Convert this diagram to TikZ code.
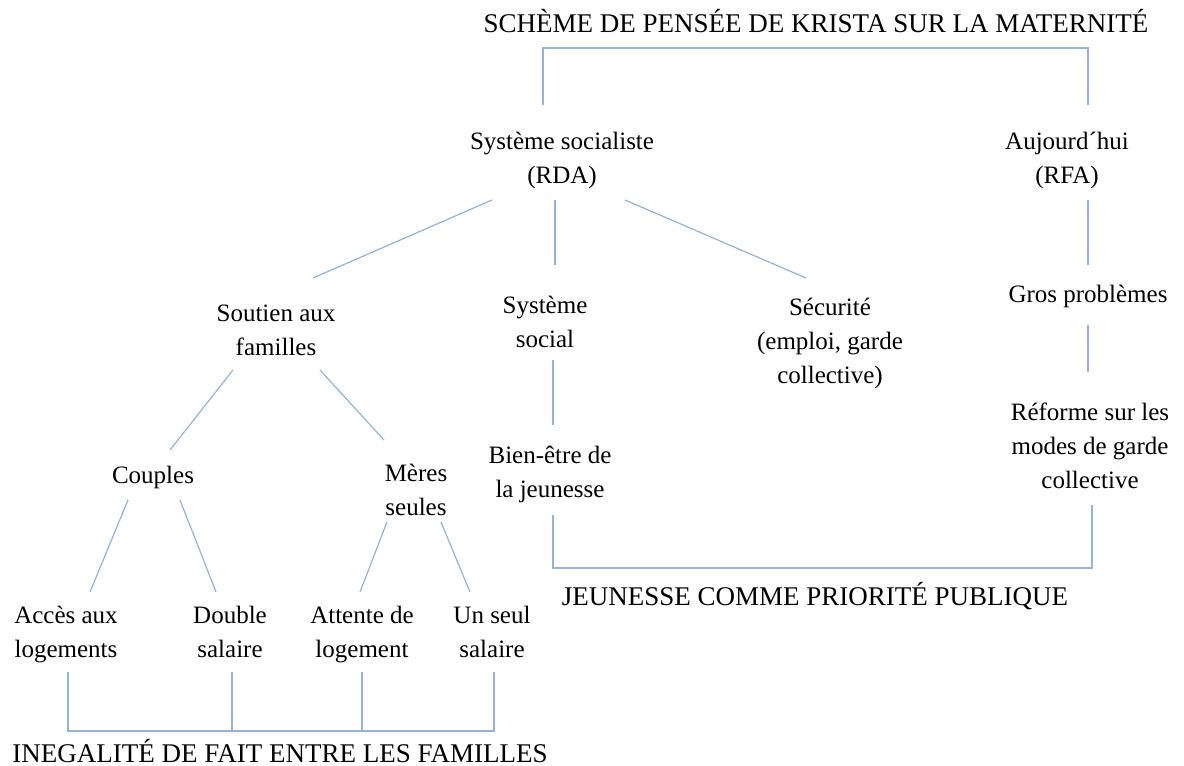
\documentclass[tikz,border=0pt]{standalone}
\usepackage{fontspec}
\setmainfont{Liberation Serif}
\usepackage{tikz}

\definecolor{linkblue}{RGB}{149,179,215}

\tikzset{
  lbl/.style={align=center, inner sep=0pt, font=\fontsize{25}{34}\selectfont},
  titre/.style={inner sep=0pt, font=\fontsize{27}{34}\selectfont},
  link/.style={draw=linkblue, line width=1.2pt}
}

\begin{document}
\begin{tikzpicture}[x=1pt,y=-1pt]
                \useasboundingbox (0,0) rectangle (1184,766);

                \node[titre] (maternite) at (816,21) {SCHÈME DE PENSÉE DE KRISTA SUR LA MATERNITÉ};
                \node[lbl] (rda) at (562,160) {Système socialiste\\(RDA)};
                \node[lbl] (rfa) at (1067,160) {Aujourd´hui\\(RFA)};

                \node[lbl] (soutien) at (276,330) {Soutien aux\\familles};
                \node[lbl] (social) at (545,322) {Système\\social};
                \node[lbl] (securite) at (830,343) {Sécurité\\(emploi, garde\\collective)};
                \node[lbl] (gros) at (1088,296) {Gros problèmes};
                \node[lbl] (reforme) at (1090,446) {Réforme sur les\\modes de garde\\collective};
                \node[lbl] (bien) at (550,474) {Bien-être de\\la jeunesse};
                \node[titre] (jeunesse) at (815,596) {JEUNESSE COMME PRIORITÉ PUBLIQUE};

                \node[lbl] (couples) at (153,477) {Couples};
                \node[lbl] (meres) at (416,490) {Mères\\seules};
                \node[lbl] (acces) at (66,634) {Accès aux\\logements};
                \node[lbl] (double) at (230,632) {Double\\salaire};
                \node[lbl] (attente) at (362,635) {Attente de\\logement};
                \node[lbl] (unseul) at (492,632) {Un seul\\salaire};
                \node[titre] (inegalite) at (280,751) {INEGALITÉ DE FAIT ENTRE LES FAMILLES};

                % accolade du haut
                \draw[link] ([shift={(-19,-55)}]rda.center) -- ++(0,-57) -| ([shift={(21,-55)}]rfa.center);

                \draw[link] ([shift={(-70,40)}]rda.center) -- ([shift={(37,-52)}]soutien.center);
                \draw[link] ([shift={(-7,40)}]rda.center) -- ([shift={(10,-57)}]social.center);
                \draw[link] ([shift={(63,40)}]rda.center) -- ([shift={(-24,-65)}]securite.center);
                \draw[link] ([shift={(21,40)}]rfa.center) -- ([shift={(0,-31)}]gros.center);
                \draw[link] ([shift={(0,29)}]gros.center) -- ([shift={(-2,-74)}]reforme.center);
                \draw[link] ([shift={(8,38)}]social.center) -- ([shift={(3,-49)}]bien.center);

                % jeunesse
                \draw[link] ([shift={(3,41)}]bien.center) -- ++(0,53) -| ([shift={(2,59)}]reforme.center);

                \draw[link] ([shift={(-43,40)}]soutien.center) -- ([shift={(17,-27)}]couples.center);
                \draw[link] ([shift={(44,40)}]soutien.center) -- ([shift={(-32,-50)}]meres.center);
                \draw[link] ([shift={(-25,23)}]couples.center) -- ([shift={(24,-42)}]acces.center);
                \draw[link] ([shift={(27,23)}]couples.center) -- ([shift={(-14,-40)}]double.center);
                \draw[link] ([shift={(-29,32)}]meres.center) -- ([shift={(-2,-43)}]attente.center);
                \draw[link] ([shift={(25,32)}]meres.center) -- ([shift={(-22,-40)}]unseul.center);

                % inegalite
                \draw[link] ([shift={(2,38)}]acces.center) -- ++(0,59) -| ([shift={(2,40)}]unseul.center);
                \draw[link] ([shift={(2,40)}]double.center) -- ++(0,59);
                \draw[link] ([shift={(0,37)}]attente.center) -- ++(0,59);
            \end{tikzpicture}
\end{document}
